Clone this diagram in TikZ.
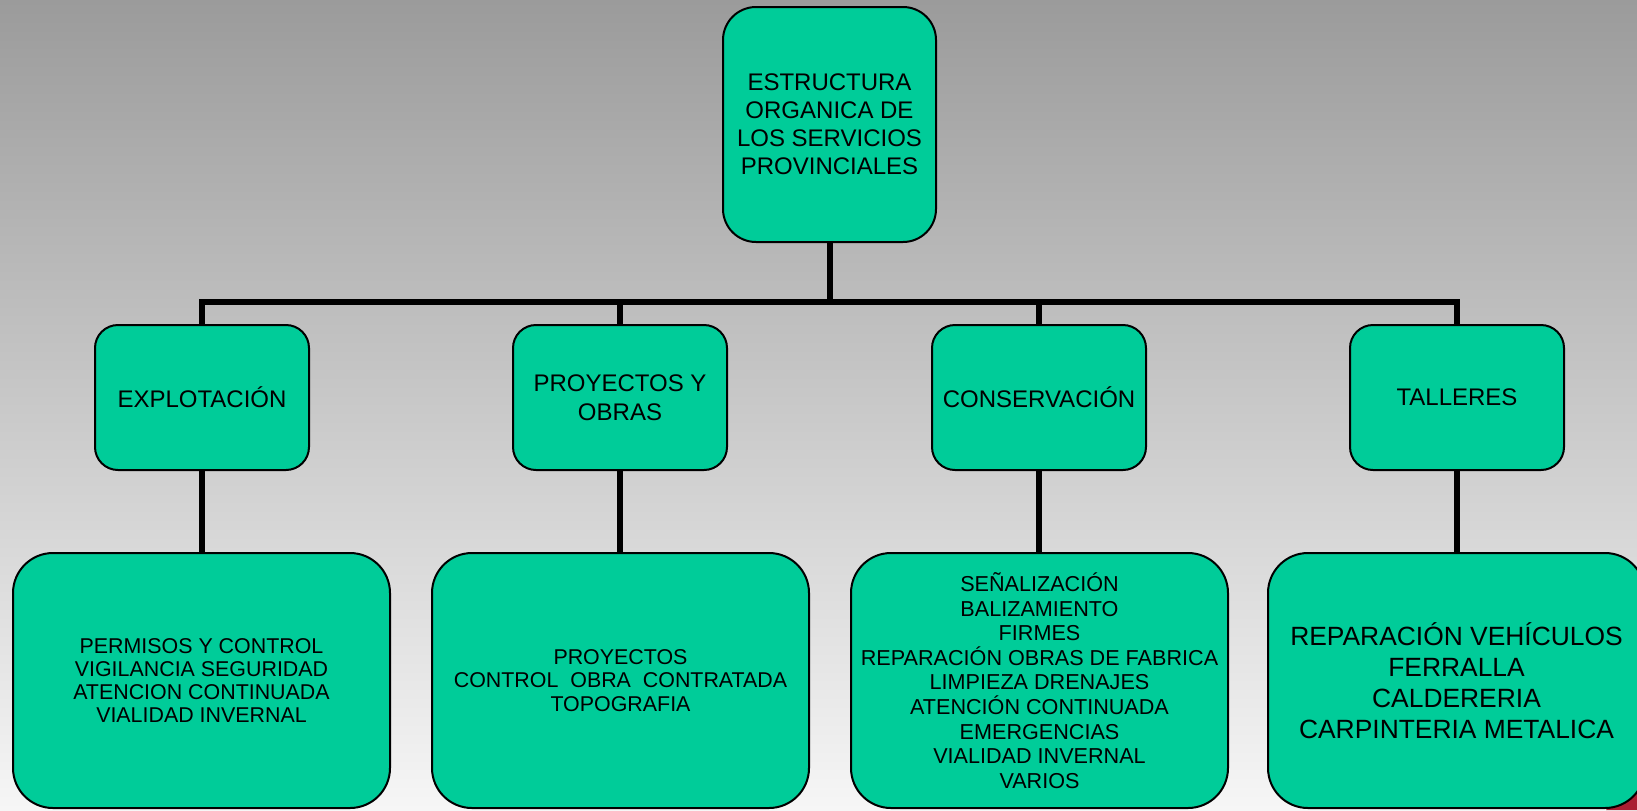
\documentclass[tikz,border=0pt]{standalone}
\usepackage{fontspec}
\setmainfont{Liberation Sans}
\usetikzlibrary{calc}
\definecolor{boxgreen}{RGB}{0,204,153}
\definecolor{bgtop}{RGB}{155,155,155}
\definecolor{bgbot}{RGB}{246,246,246}
\definecolor{cornerred}{RGB}{170,30,50}
\tikzset{
  gbox/.style={draw=black, line width=1pt, fill=boxgreen, align=center, inner sep=2pt},
  topbox/.style={gbox, minimum width=106.5pt, minimum height=117.5pt, rounded corners=16.5pt,
     font=\fontsize{12}{14}\selectfont},
  midbox/.style={gbox, minimum width=107pt, minimum height=72.5pt, rounded corners=11.5pt,
     font=\fontsize{12}{14.5}\selectfont},
  botbox/.style={gbox, minimum width=188.5pt, minimum height=127.5pt, rounded corners=20pt,
     font=\fontsize{10.7}{11.6}\selectfont},
  bigbotbox/.style={botbox, font=\fontsize{13.2}{15.5}\selectfont},
  conn/.style={draw=black, line width=3pt, line join=miter}
}
\begin{document}
\begin{tikzpicture}[x=0.5pt, y=-0.5pt]
  \useasboundingbox (0,0) rectangle (1637,810);
  \shade[top color=bgtop, bottom color=bgbot] (0,0) rectangle (1637,810);
  \fill[cornerred] (1606,810) -- (1637,776) -- (1637,810) -- cycle;

  \node[topbox] (top) at (829.5,124.5) {\raisebox{2pt}{\parbox{100pt}{\centering ESTRUCTURA\\ORGANICA DE\\LOS SERVICIOS\\PROVINCIALES}}};

  \node[midbox] (m1) at (202,397.5) {EXPLOTACIÓN};
  \node[midbox] (m2) at (620,397.5) {PROYECTOS Y\\OBRAS};
  \node[midbox] (m3) at (1039,397.5) {CONSERVACIÓN};
  \node[midbox] (m4) at (1457,397.5) {TALLERES};

  \node[botbox] (b1) at (201.5,680.5) {PERMISOS Y CONTROL\\VIGILANCIA SEGURIDAD\\ATENCION CONTINUADA\\VIALIDAD INVERNAL};
  \node[botbox] (b2) at (620.5,680.5) {PROYECTOS\\CONTROL\ \ OBRA\ \ CONTRATADA\\TOPOGRAFIA};
  \node[botbox, font=\fontsize{10.8}{12.3}\selectfont] (b3) at (1039.5,680.5) {SEÑALIZACIÓN\\BALIZAMIENTO\\FIRMES\\REPARACIÓN OBRAS DE FABRICA\\LIMPIEZA DRENAJES\\ATENCIÓN CONTINUADA\\EMERGENCIAS\\VIALIDAD INVERNAL\\VARIOS};
  \node[bigbotbox] (b4) at (1456.5,680.5) {REPARACIÓN VEHÍCULOS\\FERRALLA\\CALDERERIA\\CARPINTERIA METALICA};

  \coordinate (bar) at (829,302);
  \draw[conn] (top.south) -- (top.south |- bar);
  \draw[conn] (m1.north) |- (m4.north |- bar) -- (m4.north);
  \draw[conn] (m2.north) -- (m2.north |- bar);
  \draw[conn] (m3.north) -- (m3.north |- bar);

  \draw[conn] (m1.south) -- (m1.south |- b1.north);
  \draw[conn] (m2.south) -- (m2.south |- b2.north);
  \draw[conn] (m3.south) -- (m3.south |- b3.north);
  \draw[conn] (m4.south) -- (m4.south |- b4.north);
\end{tikzpicture}
\end{document}
